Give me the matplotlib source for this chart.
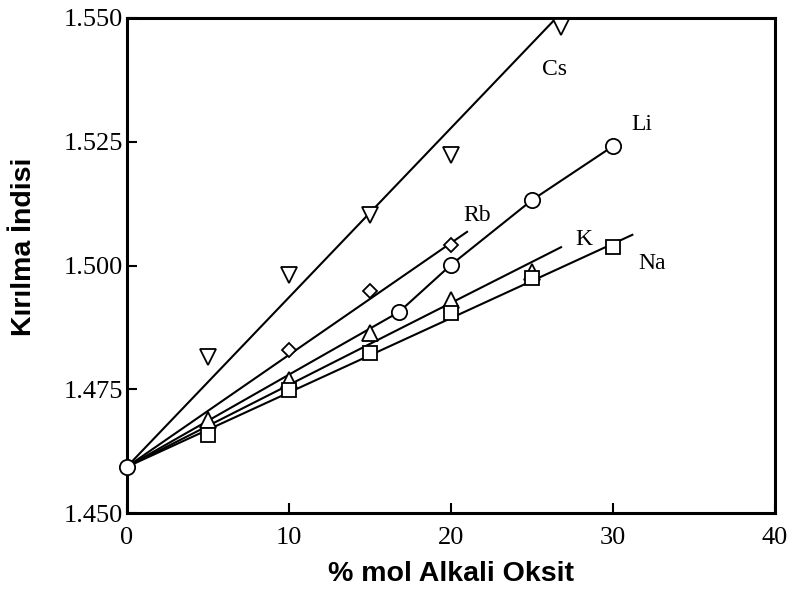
import matplotlib
matplotlib.use("Agg")
import matplotlib.pyplot as plt

# Refractive index of alkali silicate glasses vs. alkali oxide content
x_cs = [5, 10, 15, 20, 26.8]
y_cs = [1.4815, 1.4981, 1.5102, 1.5223, 1.5482]
x_li = [0, 16.8, 20, 25, 30]
y_li = [1.4593, 1.4906, 1.5001, 1.5132, 1.5241]
x_rb = [10, 15, 20]
y_rb = [1.4829, 1.4948, 1.5041]
x_k = [5, 10, 15, 20, 25]
y_k = [1.4688, 1.4769, 1.4864, 1.4930, 1.4987]
x_na = [5, 10, 15, 20, 25, 30]
y_na = [1.4658, 1.4748, 1.4823, 1.4904, 1.4975, 1.5037]

# straight trend lines starting from pure silica
fit_cs_x, fit_cs_y = [0, 26.5], [1.4593, 1.5500]
fit_rb_x, fit_rb_y = [0, 21.0], [1.4593, 1.5068]
fit_k_x, fit_k_y = [0, 26.8], [1.4593, 1.5037]
fit_na_x, fit_na_y = [0, 31.2], [1.4593, 1.5062]

labels = ["Cs", "Li", "Rb", "K", "Na"]
label_x = [26.4, 31.8, 21.6, 28.2, 32.4]
label_y = [1.5395, 1.5284, 1.5102, 1.5052, 1.5005]

serif = "Liberation Serif"
sans = "Liberation Sans"

fig = plt.figure(figsize=(7.92, 5.92), dpi=100)
ax = fig.add_axes([0.160, 0.1334, 0.8185, 0.8362])

lw = 1.5
mk = dict(mfc="white", mec="black", mew=1.3, linestyle="none", zorder=3)

ax.plot(fit_cs_x, fit_cs_y, color="black", lw=lw)
ax.plot(fit_rb_x, fit_rb_y, color="black", lw=lw)
ax.plot(fit_k_x, fit_k_y, color="black", lw=lw)
ax.plot(fit_na_x, fit_na_y, color="black", lw=lw)
ax.plot(x_li, y_li, color="black", lw=lw)

ax.plot(x_cs, y_cs, marker="v", ms=12, **mk)
ax.plot(x_rb, y_rb, marker="D", ms=7.5, **mk)
ax.plot(x_k, y_k, marker="^", ms=11, **mk)
ax.plot(x_na, y_na, marker="s", ms=10, **mk)
ax.plot(x_li, y_li, marker="o", ms=11, clip_on=False, **mk)

for t, tx, ty in zip(labels, label_x, label_y):
    ax.text(tx, ty, t, fontsize=17, family=serif, ha="center", va="center")

ax.set_xlim(0, 40)
ax.set_ylim(1.450, 1.550)
ax.set_xticks([0, 10, 20, 30, 40])
ax.set_yticks([1.450, 1.475, 1.500, 1.525, 1.550])
ax.set_yticklabels(["1.450", "1.475", "1.500", "1.525", "1.550"])
ax.tick_params(direction="in", length=7, width=1.5, labelsize=19)
ax.tick_params(axis="x", pad=10)
ax.tick_params(axis="y", pad=3)
for lab in ax.get_xticklabels() + ax.get_yticklabels():
    lab.set_family(serif)
for s in ax.spines.values():
    s.set_linewidth(2.2)

ax.set_xlabel("% mol Alkali Oksit", fontsize=20.5, fontweight="bold", family=sans, labelpad=9)
ax.set_ylabel("Kırılma İndisi", fontsize=20.5, fontweight="bold", family=sans)
ax.yaxis.set_label_coords(-0.138, 0.537)

fig.savefig("out.png", dpi=100)
